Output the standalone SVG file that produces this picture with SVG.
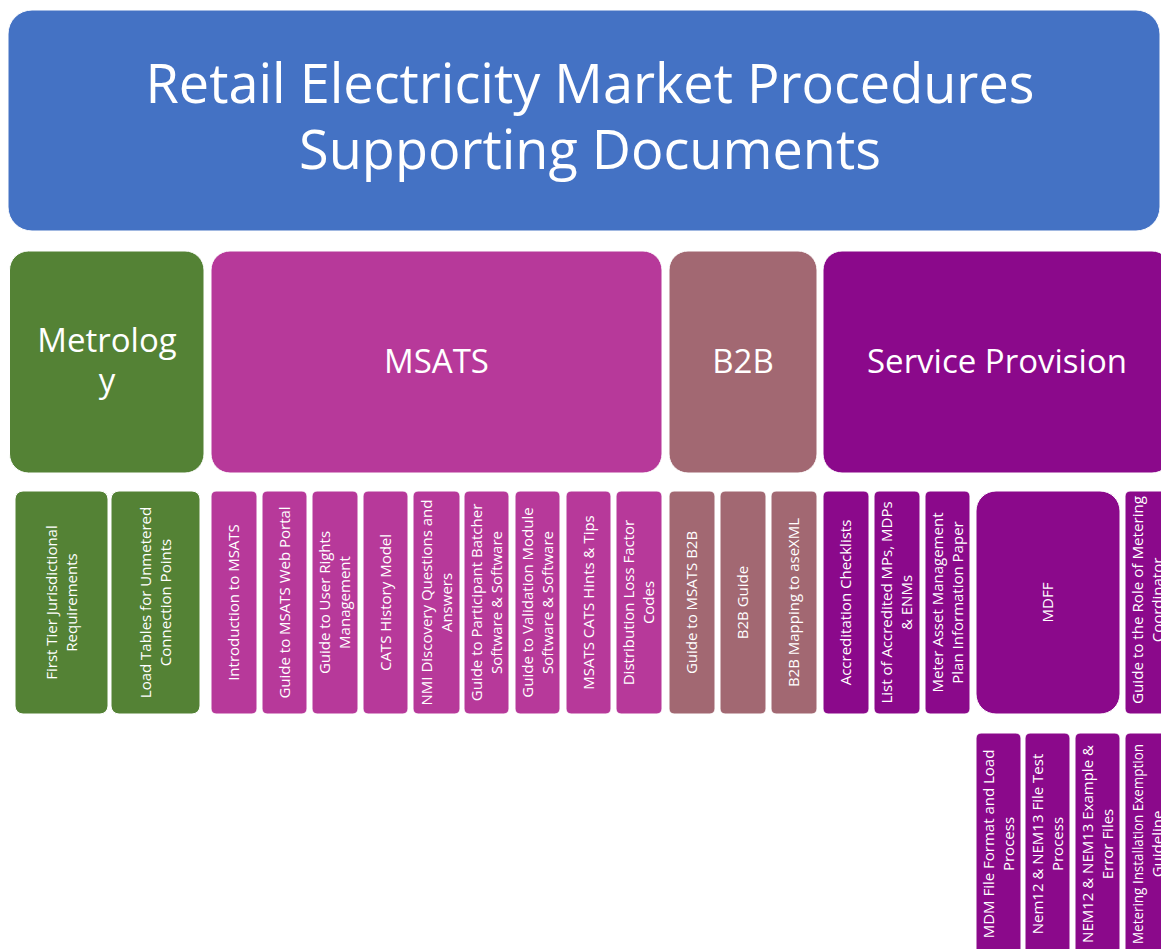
<svg xmlns="http://www.w3.org/2000/svg" width="1161" height="949" viewBox="0 0 1161 949">
<style>
  text { font-family: "Open Sans", "Noto Sans", "DejaVu Sans", sans-serif; fill: #ffffff; text-anchor: middle; }
  .hdr { fill: #4472C4; stroke: #ffffff; stroke-width: 1; }
  .met { fill: #548235; stroke: #ffffff; stroke-width: 1; }
  .msa { fill: #B7399A; stroke: #ffffff; stroke-width: 1; }
  .b2b { fill: #A26872; stroke: #ffffff; stroke-width: 1; }
  .svc { fill: #8B098B; stroke: #ffffff; stroke-width: 1; }
  .title { font-size: 54px; }
  .cat { font-size: 33px; }
  .doc { font-size: 15px; }
</style>
<rect x="0" y="0" width="1161" height="949" fill="#ffffff"/>

<g id="header">
  <rect class="hdr" x="8" y="10" width="1152" height="221" rx="24"/>
  <text class="title" x="590" y="103">Retail Electricity Market Procedures</text>
  <text class="title" x="590" y="169">Supporting Documents</text>
</g>

<g id="cat-metrology">
  <rect class="met" x="9.5" y="251" width="194.5" height="222" rx="19"/>
  <text class="cat" x="107" y="352">Metrolog</text>
  <text class="cat" x="107" y="392">y</text>
</g>
<g id="cat-msats">
  <rect class="msa" x="211" y="251" width="451" height="222" rx="19"/>
  <text class="cat" x="436.5" y="373">MSATS</text>
</g>
<g id="cat-b2b">
  <rect class="b2b" x="669" y="251" width="148" height="222" rx="19"/>
  <text class="cat" x="743" y="373">B2B</text>
</g>
<g id="cat-service">
  <rect class="svc" x="823" y="251" width="348" height="222" rx="19"/>
  <text class="cat" x="997" y="373">Service Provision</text>
</g>

<!-- Metrology documents -->
<g id="doc-first-tier">
  <rect class="met" x="15" y="491" width="93" height="223" rx="8"/>
  <text class="doc" transform="translate(61.5,602.5) rotate(-90)"><tspan x="0" y="-4.6">First Tier Jurisdictional</tspan><tspan x="0" y="15.4">Requirements</tspan></text>
</g>
<g id="doc-load-tables">
  <rect class="met" x="111" y="491" width="89" height="223" rx="8"/>
  <text class="doc" transform="translate(155.5,602.5) rotate(-90)"><tspan x="0" y="-4.6">Load Tables for Unmetered</tspan><tspan x="0" y="15.4">Connection Points</tspan></text>
</g>

<!-- MSATS documents -->
<g id="doc-intro-msats">
  <rect class="msa" x="211" y="491" width="46" height="223" rx="5"/>
  <text class="doc" transform="translate(234,602.5) rotate(-90)" y="5.4">Introduction to MSATS</text>
</g>
<g id="doc-web-portal">
  <rect class="msa" x="262" y="491" width="45" height="223" rx="5"/>
  <text class="doc" transform="translate(284.5,602.5) rotate(-90)" y="5.4">Guide to MSATS Web Portal</text>
</g>
<g id="doc-user-rights">
  <rect class="msa" x="312" y="491" width="46" height="223" rx="5"/>
  <text class="doc" transform="translate(335,602.5) rotate(-90)"><tspan x="0" y="-4.6">Guide to User Rights</tspan><tspan x="0" y="15.4">Management</tspan></text>
</g>
<g id="doc-cats-history">
  <rect class="msa" x="363" y="491" width="45" height="223" rx="5"/>
  <text class="doc" transform="translate(385.5,602.5) rotate(-90)" y="5.4">CATS History Model</text>
</g>
<g id="doc-nmi-discovery">
  <rect class="msa" x="413" y="491" width="47" height="223" rx="5"/>
  <text class="doc" transform="translate(436.5,602.5) rotate(-90)"><tspan x="0" y="-4.6">NMI Discovery Questions and</tspan><tspan x="0" y="15.4">Answers</tspan></text>
</g>
<g id="doc-batcher">
  <rect class="msa" x="464" y="491" width="45" height="223" rx="5"/>
  <text class="doc" transform="translate(486.5,602.5) rotate(-90)"><tspan x="0" y="-4.6">Guide to Participant Batcher</tspan><tspan x="0" y="15.4">Software &amp; Software</tspan></text>
</g>
<g id="doc-validation">
  <rect class="msa" x="515" y="491" width="45" height="223" rx="5"/>
  <text class="doc" transform="translate(537.5,602.5) rotate(-90)"><tspan x="0" y="-4.6">Guide to Validation Module</tspan><tspan x="0" y="15.4">Software &amp; Software</tspan></text>
</g>
<g id="doc-hints-tips">
  <rect class="msa" x="566" y="491" width="45" height="223" rx="5"/>
  <text class="doc" transform="translate(588.5,602.5) rotate(-90)" y="5.4">MSATS CATS Hints &amp; Tips</text>
</g>
<g id="doc-dlf-codes">
  <rect class="msa" x="616" y="491" width="46" height="223" rx="5"/>
  <text class="doc" transform="translate(639,602.5) rotate(-90)"><tspan x="0" y="-4.6">Distribution Loss Factor</tspan><tspan x="0" y="15.4">Codes</tspan></text>
</g>

<!-- B2B documents -->
<g id="doc-guide-msats-b2b">
  <rect class="b2b" x="669" y="491" width="46" height="223" rx="5"/>
  <text class="doc" transform="translate(692,602.5) rotate(-90)" y="5.4">Guide to MSATS B2B</text>
</g>
<g id="doc-b2b-guide">
  <rect class="b2b" x="720" y="491" width="46" height="223" rx="5"/>
  <text class="doc" transform="translate(743,602.5) rotate(-90)" y="5.4">B2B Guide</text>
</g>
<g id="doc-b2b-mapping">
  <rect class="b2b" x="771" y="491" width="46" height="223" rx="5"/>
  <text class="doc" transform="translate(794,602.5) rotate(-90)" y="5.4">B2B Mapping to aseXML</text>
</g>

<!-- Service Provision documents -->
<g id="doc-accreditation">
  <rect class="svc" x="823" y="491" width="46" height="223" rx="5"/>
  <text class="doc" transform="translate(846,602.5) rotate(-90)" y="5.4">Accreditation Checklists</text>
</g>
<g id="doc-accredited-list">
  <rect class="svc" x="874" y="491" width="46" height="223" rx="5"/>
  <text class="doc" transform="translate(897,602.5) rotate(-90)"><tspan x="0" y="-4.6">List of Accredited MPs, MDPs</tspan><tspan x="0" y="15.4">&amp; ENMs</tspan></text>
</g>
<g id="doc-meter-asset">
  <rect class="svc" x="925" y="491" width="45" height="223" rx="5"/>
  <text class="doc" transform="translate(947.5,602.5) rotate(-90)"><tspan x="0" y="-4.6">Meter Asset Management</tspan><tspan x="0" y="15.4">Plan Information Paper</tspan></text>
</g>
<g id="doc-mdff">
  <rect class="svc" x="976" y="491" width="144" height="223" rx="20"/>
  <text class="doc" transform="translate(1048,602.5) rotate(-90)" y="5.4">MDFF</text>
</g>
<g id="doc-role-mc">
  <rect class="svc" x="1125" y="491" width="46" height="223" rx="5"/>
  <text class="doc" transform="translate(1147.5,600) rotate(-90)"><tspan x="0" y="-4.6" textLength="208" lengthAdjust="spacingAndGlyphs">Guide to the Role of Metering</tspan><tspan x="0" y="15.4">Coordinator</tspan></text>
</g>

<!-- MDFF sub-documents -->
<g id="doc-mdm-format">
  <rect class="svc" x="976" y="733" width="45" height="222" rx="5"/>
  <text class="doc" transform="translate(998.5,844) rotate(-90)"><tspan x="0" y="-4.6">MDM File Format and Load</tspan><tspan x="0" y="15.4">Process</tspan></text>
</g>
<g id="doc-nem12-test">
  <rect class="svc" x="1025" y="733" width="45" height="222" rx="5"/>
  <text class="doc" transform="translate(1047.5,844) rotate(-90)"><tspan x="0" y="-4.6">Nem12 &amp; NEM13 File Test</tspan><tspan x="0" y="15.4">Process</tspan></text>
</g>
<g id="doc-nem12-examples">
  <rect class="svc" x="1075" y="733" width="45" height="222" rx="5"/>
  <text class="doc" transform="translate(1097.5,844) rotate(-90)"><tspan x="0" y="-4.6">NEM12 &amp; NEM13 Example &amp;</tspan><tspan x="0" y="15.4">Error Files</tspan></text>
</g>
<g id="doc-exemption">
  <rect class="svc" x="1125" y="733" width="46" height="222" rx="5"/>
  <text class="doc" transform="translate(1147.5,844) rotate(-90)"><tspan x="0" y="-4.6" textLength="200" lengthAdjust="spacingAndGlyphs">Metering Installation Exemption</tspan><tspan x="0" y="15.4">Guideline</tspan></text>
</g>
</svg>
